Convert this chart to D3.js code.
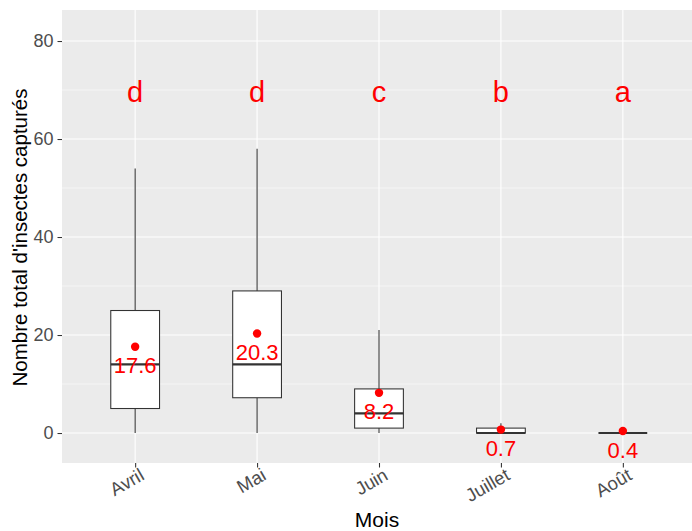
<!DOCTYPE html>
<html lang="fr">
<head>
    <meta charset="UTF-8">
    <title>Insectes capturés par mois</title>
    <script src="https://d3js.org/d3.v7.min.js"></script>
    <style>
        body { margin: 0; background: #fff; }
        text { font-family: "Liberation Sans", Arial, sans-serif; }
    </style>
</head>
<body>
<svg id="chart" width="692" height="531"></svg>
<script>
    // data
    const months = ["Avril", "Mai", "Juin", "Juillet", "Août"];
    const groupLetters = ["d", "d", "c", "b", "a"];
    const whiskerLow = [0, 0, 0, 0, 0];
    const q1 = [5, 7.2, 1, 0, 0];
    const medians = [14, 14, 4, 0, 0];
    const q3 = [25, 29, 9, 1, 0];
    const whiskerHigh = [54, 58, 21, 2, 0];
    const means = [17.6, 20.3, 8.2, 0.7, 0.4];
    const yTicks = [0, 20, 40, 60, 80];
    const yMinor = [10, 30, 50, 70];
    const letterY = 70;

    const width = 692;
    const height = 531;
    const panel = { left: 62, right: 696, top: 10, bottom: 463 };

    const svg = d3.select('#chart');

    const x = d3.scalePoint()
        .domain(months)
        .range([panel.left, panel.right])
        .padding(0.6);

    const y = d3.scaleLinear()
        .domain([-6.12, 86.33])
        .range([panel.bottom, panel.top]);

    const boxW = x.step() * 0.4;

    // panel background
    svg.append('rect')
        .attr('x', panel.left)
        .attr('y', panel.top)
        .attr('width', panel.right - panel.left)
        .attr('height', panel.bottom - panel.top)
        .attr('fill', '#EBEBEB');

    // grid lines
    svg.selectAll('.minor')
        .data(yMinor)
        .enter().append('line')
        .attr('x1', panel.left).attr('x2', panel.right)
        .attr('y1', d => y(d)).attr('y2', d => y(d))
        .attr('stroke', '#fff').attr('stroke-width', 0.55);

    svg.selectAll('.major')
        .data(yTicks)
        .enter().append('line')
        .attr('x1', panel.left).attr('x2', panel.right)
        .attr('y1', d => y(d)).attr('y2', d => y(d))
        .attr('stroke', '#fff').attr('stroke-width', 1.1);

    svg.selectAll('.vgrid')
        .data(months)
        .enter().append('line')
        .attr('x1', d => x(d)).attr('x2', d => x(d))
        .attr('y1', panel.top).attr('y2', panel.bottom)
        .attr('stroke', '#fff').attr('stroke-width', 1.1);

    const rows = months.map((m, i) => ({
        m: m, lo: whiskerLow[i], q1: q1[i], med: medians[i],
        q3: q3[i], hi: whiskerHigh[i], mean: means[i], letter: groupLetters[i]
    }));

    // whiskers
    svg.selectAll('.whisker-up')
        .data(rows)
        .enter().append('line')
        .attr('x1', d => x(d.m)).attr('x2', d => x(d.m))
        .attr('y1', d => y(d.q3)).attr('y2', d => y(d.hi))
        .attr('stroke', '#333').attr('stroke-width', 1.07);

    svg.selectAll('.whisker-down')
        .data(rows)
        .enter().append('line')
        .attr('x1', d => x(d.m)).attr('x2', d => x(d.m))
        .attr('y1', d => y(d.q1)).attr('y2', d => y(d.lo))
        .attr('stroke', '#333').attr('stroke-width', 1.07);

    // boxes
    svg.selectAll('.box')
        .data(rows)
        .enter().append('rect')
        .attr('x', d => x(d.m) - boxW / 2)
        .attr('y', d => y(d.q3))
        .attr('width', boxW)
        .attr('height', d => y(d.q1) - y(d.q3))
        .attr('fill', '#fff')
        .attr('stroke', '#333')
        .attr('stroke-width', 1.07);

    svg.selectAll('.median')
        .data(rows)
        .enter().append('line')
        .attr('x1', d => x(d.m) - boxW / 2).attr('x2', d => x(d.m) + boxW / 2)
        .attr('y1', d => y(d.med)).attr('y2', d => y(d.med))
        .attr('stroke', '#333').attr('stroke-width', 2.1);

    // means
    svg.selectAll('.mean')
        .data(rows)
        .enter().append('circle')
        .attr('cx', d => x(d.m))
        .attr('cy', d => y(d.mean))
        .attr('r', 4.2)
        .attr('fill', '#FF0000');

    svg.selectAll('.mean-label')
        .data(rows)
        .enter().append('text')
        .attr('x', d => x(d.m))
        .attr('y', d => y(d.mean) + 26.5)
        .attr('text-anchor', 'middle')
        .attr('font-size', '22px')
        .attr('fill', '#FF0000')
        .text(d => d.mean.toFixed(1));

    // group letters
    svg.selectAll('.letter')
        .data(rows)
        .enter().append('text')
        .attr('x', d => x(d.m))
        .attr('y', y(letterY))
        .attr('dy', '0.4em')
        .attr('text-anchor', 'middle')
        .attr('font-size', '29px')
        .attr('fill', '#FF0000')
        .text(d => d.letter);

    // y axis
    const yAxis = svg.append('g')
        .attr('transform', `translate(${panel.left}, 0)`)
        .call(d3.axisLeft(y).tickValues(yTicks).tickSize(4.5).tickPadding(4));
    yAxis.select('.domain').remove();
    yAxis.selectAll('.tick line').attr('stroke', '#333').attr('stroke-width', 1.07);
    yAxis.selectAll('.tick text')
        .attr('fill', '#4D4D4D')
        .attr('font-size', '18px')
        .attr('font-family', '"Liberation Sans", Arial, sans-serif');

    // x axis
    const xAxis = svg.append('g')
        .attr('transform', `translate(0, ${panel.bottom})`)
        .call(d3.axisBottom(x).tickSize(4.5));
    xAxis.select('.domain').remove();
    xAxis.selectAll('.tick line').attr('stroke', '#333').attr('stroke-width', 1.07);
    xAxis.selectAll('.tick text')
        .attr('fill', '#4D4D4D')
        .attr('font-size', '18.5px')
        .attr('font-family', '"Liberation Sans", Arial, sans-serif')
        .attr('text-anchor', 'end')
        .attr('dy', null)
        .attr('y', 0)
        .attr('x', 0)
        .attr('dominant-baseline', 'hanging')
        .attr('transform', 'translate(3, 4) rotate(-30)');

    // axis titles
    svg.append('text')
        .attr('x', (panel.left + width) / 2)
        .attr('y', 527)
        .attr('text-anchor', 'middle')
        .attr('font-size', '21px')
        .attr('fill', '#000')
        .text('Mois');

    svg.append('text')
        .attr('transform', `translate(27, ${(panel.top + panel.bottom) / 2 + 1}) rotate(-90)`)
        .attr('text-anchor', 'middle')
        .attr('font-size', '20.5px')
        .attr('fill', '#000')
        .text("Nombre total d'insectes capturés");
</script>
</body>
</html>
